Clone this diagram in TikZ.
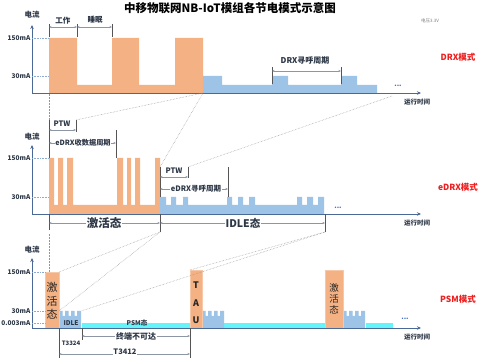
\documentclass[tikz,border=0pt]{standalone}
\usepackage{fontspec}
\setmainfont{Noto Sans CJK SC}
\usetikzlibrary{arrows.meta}
\definecolor{orangeC}{RGB}{244,177,131}
\definecolor{blueC}{RGB}{157,195,230}
\definecolor{cyanC}{RGB}{100,245,250}
\definecolor{axisC}{RGB}{75,105,150}
\definecolor{txtC}{RGB}{45,55,70}
\definecolor{tickC}{RGB}{140,170,210}
\definecolor{linkC}{RGB}{150,150,150}
\definecolor{dimC}{RGB}{140,150,165}
\definecolor{barC}{RGB}{85,85,85}
\definecolor{redC}{RGB}{240,30,30}
\definecolor{dotsC}{RGB}{70,110,200}
\tikzset{
 axisline/.style={draw=axisC, line width=0.9pt, -{Stealth[length=4pt,width=3.5pt]}},
 tickline/.style={draw=tickC, densely dotted, line width=0.6pt},
 linkline/.style={draw=linkC, densely dotted, line width=0.5pt},
 dimline/.style={draw=dimC, line width=0.5pt, {Stealth[length=2.5pt,width=2pt]}-{Stealth[length=2.5pt,width=2pt]}},
 barline/.style={draw=barC, line width=0.7pt},
 ylab/.style={text=txtC, font=\bfseries\fontsize{6.5}{7}\selectfont, inner sep=0.5pt, anchor=east},
 curlab/.style={text=txtC, font=\bfseries\fontsize{7.5}{8}\selectfont, inner sep=0.5pt},
 timelab/.style={text=txtC, font=\bfseries\fontsize{6.5}{7}\selectfont, inner sep=0.5pt},
 modelab/.style={text=redC, font=\bfseries\fontsize{8.5}{9}\selectfont, inner sep=0.5pt},
 dimlab/.style={text=txtC, font=\bfseries\fontsize{7.5}{8}\selectfont, inner sep=0.8pt},
 onlab/.style={dimlab, fill=white},
 bigon/.style={text=txtC, font=\bfseries\fontsize{11.5}{12}\selectfont, inner sep=0.8pt, fill=white},
 dotslab/.style={text=dotsC, font=\bfseries\fontsize{7}{7}\selectfont, inner sep=0pt},
 obox/.style={fill=orangeC, draw=orangeC!70!white, line width=0.4pt},
}
\newcommand{\teethblock}[1]{%
 \fill[blueC] (#1,328) -- (#1,311) -- ++(3.5,0) -- ++(0,5) -- ++(2.5,0) -- ++(0,-5) -- ++(3.5,0) -- ++(0,5) -- ++(2.5,0) -- ++(0,-5) -- ++(3.5,0) -- ++(0,5) -- ++(2.5,0) -- ++(0,-5) -- ++(4,0) -- (#1+22,328) -- cycle;}
\begin{document}
\begin{tikzpicture}[x=1pt,y=-1pt]
\useasboundingbox (0,0) rectangle (499,358);
\fill[white] (0,0) rectangle (499,358);

% title
\node[font=\bfseries\fontsize{11.5}{12}\selectfont] (title) at (230,8) {中移物联网NB-IoT模组各节电模式示意图};
\node[text=gray, font=\fontsize{4.5}{5}\selectfont] (volt) at (430,21) {电压3.3V};

% ================= Panel 1: DRX =================
\fill[orangeC] (49,93) -- (49,38) -- (77,38) -- (77,85) -- (112,85) -- (112,38) -- (139,38) -- (139,85) -- (175,85) -- (175,38) -- (203,38) -- (203,93) -- cycle;
\fill[blueC] (203,93) -- (203,76) -- (222,76) -- (222,85) -- (272,85) -- (272,76) -- (288,76) -- (288,85) -- (341,85) -- (341,76) -- (357,76) -- (357,85) -- (377,85) -- (377,93) -- cycle;
\coordinate (o1) at (32,93); \coordinate (yt1) at (32,25); \coordinate (xe1) at (421,93);
\draw[axisline] (o1) -- (yt1);
\draw[axisline] (o1) -- (xe1);
\coordinate (t1a) at (32,38); \coordinate (t1b) at (49,38);
\coordinate (t1c) at (32,76); \coordinate (t1d) at (49,76);
\draw[tickline] (t1a) -- (t1b);
\draw[tickline] (t1c) -- (t1d);
\node[ylab] (p1l150) at (31,38) {150mA};
\node[ylab] (p1l30) at (31,76) {30mA};
\node[curlab] (p1cur) at (32,15) {电流};
\node[timelab] (p1time) at (417,102) {运行时间};
\node[dotslab] (p1dots) at (398,86) {...};
\node[modelab] (p1mode) at (458,57) {DRX模式};
% work / sleep
\coordinate (w1t) at (49,24); \coordinate (w1b) at (49,37);
\coordinate (w2t) at (77,24); \coordinate (w2b) at (77,37);
\coordinate (w3t) at (112,24); \coordinate (w3b) at (112,37);
\draw[barline] (w1t) -- (w1b);
\draw[barline] (w2t) -- (w2b);
\draw[barline] (w3t) -- (w3b);
\coordinate (wa1) at (49,27); \coordinate (wa2) at (77,27); \coordinate (wa3) at (112,27);
\draw[dimline] (wa1) -- (wa2);
\draw[dimline] (wa2) -- (wa3);
\node[dimlab] (work) at (63,21) {工作};
\node[dimlab] (sleep) at (95,20) {睡眠};
% DRX paging cycle
\coordinate (d1t) at (272,67); \coordinate (d1b) at (272,84);
\coordinate (d2t) at (341,67); \coordinate (d2b) at (341,84);
\draw[barline] (d1t) -- (d1b);
\draw[barline] (d2t) -- (d2b);
\coordinate (da1) at (272,71); \coordinate (da2) at (341,71);
\draw[dimline] (da1) -- (da2);
\node[dimlab, font=\bfseries\fontsize{8}{9}\selectfont] (drxcyc) at (305,61) {DRX寻呼周期};

% ================= Panel 2: eDRX =================
\fill[orangeC] (49,214) -- (49,158) -- (54,158) -- (54,205) -- (58,205) -- (58,158) -- (63,158) -- (63,205) -- (67,205) -- (67,158) -- (73,158) -- (73,205) -- (117,205) -- (117,158) -- (123,158) -- (123,205) -- (127,205) -- (127,158) -- (131,158) -- (131,205) -- (135,205) -- (135,158) -- (140,158) -- (140,205) -- (155,205) -- (155,158) -- (160,158) -- (160,214) -- cycle;
\fill[blueC] (160,214) -- (160,197) -- (166,197) -- (166,205) -- (171,205) -- (171,197) -- (176,197) -- (176,205) -- (183,205) -- (183,197) -- (188,197) -- (188,205) -- (227,205) -- (227,197) -- (232,197) -- (232,205) -- (238,205) -- (238,197) -- (243,197) -- (243,205) -- (249,205) -- (249,197) -- (255,197) -- (255,205) -- (297,205) -- (297,197) -- (302,197) -- (302,205) -- (307,205) -- (307,197) -- (313,197) -- (313,205) -- (318,205) -- (318,197) -- (324,197) -- (324,214) -- cycle;
\coordinate (o2) at (32,214); \coordinate (yt2) at (32,145); \coordinate (xe2) at (421,214);
\draw[axisline] (o2) -- (yt2);
\draw[axisline] (o2) -- (xe2);
\coordinate (t2a) at (32,158); \coordinate (t2b) at (49,158);
\coordinate (t2c) at (32,197); \coordinate (t2d) at (49,197);
\draw[tickline] (t2a) -- (t2b);
\draw[tickline] (t2c) -- (t2d);
\node[ylab] (p2l150) at (31,158) {150mA};
\node[ylab] (p2l30) at (31,197) {30mA};
\node[curlab] (p2cur) at (32,137) {电流};
\node[timelab] (p2time) at (417,223) {运行时间};
\node[dotslab] (p2dots) at (338,208) {...};
\node[modelab] (p2mode) at (458,187) {eDRX模式};
% PTW 1 and eDRX receive cycle
\coordinate (e1t) at (49,120); \coordinate (e1b) at (49,158);
\coordinate (e2t) at (76,120); \coordinate (e2b) at (76,132);
\coordinate (e3t) at (116,130); \coordinate (e3b) at (116,158);
\draw[barline] (e1t) -- (e1b);
\draw[barline] (e2t) -- (e2b);
\draw[barline] (e3t) -- (e3b);
\coordinate (ea1) at (49,130); \coordinate (ea2) at (76,130);
\draw[dimline] (ea1) -- (ea2);
\node[dimlab] (ptw1) at (62,124) {PTW};
\coordinate (eb1) at (49,143); \coordinate (eb2) at (116,143);
\draw[dimline] (eb1) -- (eb2);
\node[onlab, font=\bfseries\fontsize{7.2}{8}\selectfont] (ercv) at (83,143) {eDRX收数据周期};
% PTW 2 and eDRX paging cycle
\coordinate (f1t) at (160,167); \coordinate (f1b) at (160,197);
\coordinate (f2t) at (188,167); \coordinate (f2b) at (188,178);
\coordinate (f3t) at (228,167); \coordinate (f3b) at (228,197);
\draw[barline] (f1t) -- (f1b);
\draw[barline] (f2t) -- (f2b);
\draw[barline] (f3t) -- (f3b);
\coordinate (fa1) at (160,177); \coordinate (fa2) at (188,177);
\draw[dimline] (fa1) -- (fa2);
\node[dimlab] (ptw2) at (174,171) {PTW};
\coordinate (fb1) at (160,189); \coordinate (fb2) at (228,189);
\draw[dimline] (fb1) -- (fb2);
\node[onlab] (epag) at (196,189) {eDRX寻呼周期};
% state spans
\coordinate (g1t) at (49,214); \coordinate (g1b) at (49,230);
\coordinate (g2t) at (160,214); \coordinate (g2b) at (160,232);
\coordinate (g3t) at (325,214); \coordinate (g3b) at (325,232);
\draw[barline] (g1t) -- (g1b);
\draw[barline] (g2t) -- (g2b);
\draw[barline] (g3t) -- (g3b);
\coordinate (ga1) at (49,223); \coordinate (ga2) at (160,223); \coordinate (ga3) at (325,223);
\draw[dimline] (ga1) -- (ga2);
\draw[dimline] (ga2) -- (ga3);
\node[bigon] (act2) at (104,223) {激活态};
\node[bigon, font=\bfseries\fontsize{10.5}{11}\selectfont] (idle2) at (243,223) {IDLE态};

% ================= Panel 3: PSM =================
\fill[cyanC] (82,323) rectangle (190,328);
\fill[cyanC] (224,323) rectangle (325,328);
\fill[cyanC] (366,323) rectangle (393,328);
\teethblock{59}
\teethblock{202}
\teethblock{343}
\filldraw[obox] (45,272) rectangle (59,328);
\filldraw[obox] (190,270) rectangle (202,328);
\filldraw[obox] (325,270) rectangle (343,328);
\coordinate (o3) at (32,328); \coordinate (yt3) at (32,258); \coordinate (xe3) at (421,328);
\draw[axisline] (o3) -- (yt3);
\draw[axisline] (o3) -- (xe3);
\coordinate (t3a) at (32,272); \coordinate (t3b) at (45,272);
\coordinate (t3c) at (32,311); \coordinate (t3d) at (45,311);
\coordinate (t3e) at (32,323); \coordinate (t3f) at (45,323);
\draw[tickline] (t3a) -- (t3b);
\draw[tickline] (t3c) -- (t3d);
\draw[tickline] (t3e) -- (t3f);
\node[ylab] (p3l150) at (31,272) {150mA};
\node[ylab] (p3l30) at (31,311) {30mA};
\node[ylab] (p3l0) at (31,323) {0.003mA};
\node[curlab] (p3cur) at (32,250) {电流};
\node[timelab] (p3time) at (417,337) {运行时间};
\node[dotslab] (p3dots) at (405,319) {...};
\node[modelab] (p3mode) at (458,299) {PSM模式};
\node[text=black!85, font=\fontsize{11}{13.5}\selectfont, align=center, inner sep=0pt] (act3a) at (52,301) {激\\活\\态};
\node[text=black!85, font=\bfseries\fontsize{9}{17.5}\selectfont, align=center, inner sep=0pt] (tau) at (196,303) {T\\A\\U};
\node[text=black!85, font=\fontsize{9.5}{11}\selectfont, align=center, inner sep=0pt] (act3b) at (334,299) {激\\活\\态};
\node[timelab] (idle3) at (71,323) {IDLE};
\node[timelab] (psm3) at (137,323) {PSM态};
% timers
\coordinate (h1t) at (59,328); \coordinate (h1b) at (59,358);
\coordinate (h2t) at (82,328); \coordinate (h2b) at (82,340);
\coordinate (h3t) at (190,328); \coordinate (h3b) at (190,358);
\draw[barline] (h1t) -- (h1b);
\draw[barline] (h2t) -- (h2b);
\draw[barline] (h3t) -- (h3b);
\coordinate (ha1) at (82,336); \coordinate (ha2) at (190,336);
\draw[dimline] (ha1) -- (ha2);
\node[onlab, font=\bfseries\fontsize{8}{9}\selectfont] (unreach) at (136,336) {终端不可达};
\node[dimlab, font=\bfseries\fontsize{6}{7}\selectfont] (t3324) at (71,343) {T3324};
\coordinate (hb1) at (59,354); \coordinate (hb2) at (190,354);
\draw[dimline] (hb1) -- (hb2);
\node[onlab] (t3412) at (125,352) {T3412};

% ================= dotted zoom links =================
\coordinate (k1a) at (49,94); \coordinate (k1b) at (49,120);
\coordinate (k2a) at (203,93);
\coordinate (k3a) at (392,96);
\draw[linkline] (k1a) -- (k1b);
\draw[linkline] (k2a) -- (e2t);
\draw[linkline] (k2a) -- (f1t);
\draw[linkline] (k3a) -- (f2t);
\coordinate (m1a) at (49,234); \coordinate (m1b) at (49,272);
\coordinate (m2a) at (160,232);
\coordinate (m2b) at (59,272); \coordinate (m2c) at (59,311);
\coordinate (m3a) at (325,232);
\coordinate (m3b) at (81,311); \coordinate (m3c) at (190,270);
\draw[linkline] (m1a) -- (m1b);
\draw[linkline] (m2a) -- (m2b);
\draw[linkline] (m2a) -- (m2c);
\draw[linkline] (m3a) -- (m3b);
\draw[linkline] (m3a) -- (m3c);
\end{tikzpicture}
\end{document}
